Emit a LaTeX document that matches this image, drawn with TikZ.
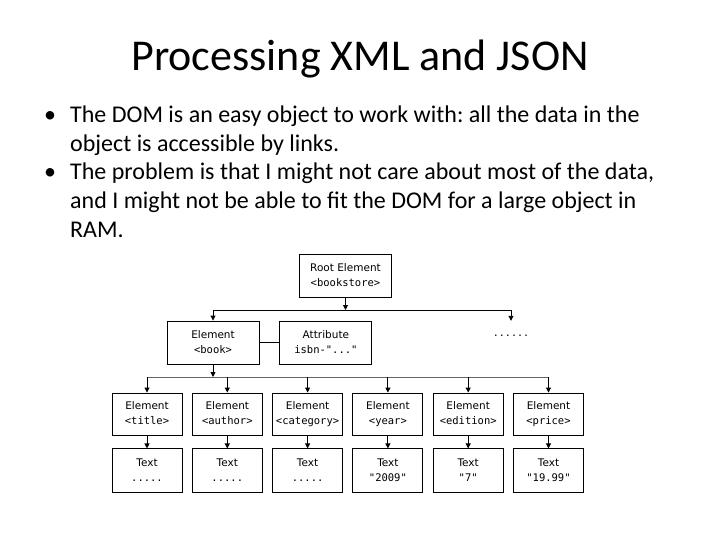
\documentclass[tikz,border=0pt]{standalone}
\usepackage{fontspec}
\setmainfont{Carlito}
\setmonofont{DejaVu Sans Mono}
\newfontfamily\dgfont{DejaVu Sans}
\usetikzlibrary{positioning, arrows.meta}
\newcommand{\twoline}[2]{#1\strut\\{\ttfamily #2}\strut}
\frenchspacing

\begin{document}
\begin{tikzpicture}[
    x=1pt, y=-1pt,
    heading/.style = {font=\fontsize{44}{48}\selectfont, inner sep=0pt, anchor=base},
    line/.style = {font=\fontsize{24}{28}\selectfont, inner sep=0pt, anchor=base west},
    box/.style = {draw, line width=0.9pt, minimum width=70pt, minimum height=42pt,
                  inner sep=0pt, align=center, font=\dgfont\fontsize{10.5}{15}\selectfont},
    txtbox/.style = {box, minimum height=44pt},
    bigbox/.style = {box, minimum width=92pt, minimum height=43pt},
    arr/.style = {-{Triangle[length=5pt, width=5pt]}, line width=0.9pt},
    bus/.style = {line width=0.9pt},
  ]
    \useasboundingbox (0,0) rectangle (720,540);
    \node[heading] (title) at (360,71) {Processing XML and JSON};
    % bullet text
    \node[line] (dot1) at (44,123) {•};
    \node[line] (l1) at (70,123) {The DOM is an easy object to work with: all the data in the};
    \node[line] (l2) at (70,151.5) {object is accessible by links.};
    \node[line] (dot2) at (44,180) {•};
    \node[line] (l3) at (70,180) {The problem is that I might not care about most of the data,};
    \node[line] (l4) at (70,208.5) {and I might not be able to fit the DOM for a large object in};
    \node[line] (l5) at (70,237) {RAM.};
    % tree
    \node[bigbox] (root) at (345.5,276) {\twoline{Root Element}{<bookstore>}};
    \node[bigbox] (book) at (213,342.5) {\twoline{Element}{<book>}};
    \node[bigbox, right=20pt of book] (attr) {\twoline{Attribute}{isbn-"..."}};
    \node[font=\ttfamily\fontsize{10}{12}\selectfont, minimum height=30pt] (more) at (511,336) {......};
    \node[box] (e1) at (147,414) {\twoline{Element}{<title>}};
    \node[box, right=9.4pt of e1] (e2) {\twoline{Element}{<author>}};
    \node[box, right=9.4pt of e2] (e3) {\twoline{Element}{<category>}};
    \node[box, right=9.4pt of e3] (e4) {\twoline{Element}{<year>}};
    \node[box, right=9.4pt of e4] (e5) {\twoline{Element}{<edition>}};
    \node[box, right=9.4pt of e5] (e6) {\twoline{Element}{<price>}};
    \node[txtbox, below=13pt of e1] (t1) {\twoline{Text}{.....}};
    \node[txtbox, below=13pt of e2] (t2) {\twoline{Text}{.....}};
    \node[txtbox, below=13pt of e3] (t3) {\twoline{Text}{.....}};
    \node[txtbox, below=13pt of e4] (t4) {\twoline{Text}{"2009"}};
    \node[txtbox, below=13pt of e5] (t5) {\twoline{Text}{"7"}};
    \node[txtbox, below=13pt of e6] (t6) {\twoline{Text}{"19.99"}};
    % connectors
    \coordinate (bus1) at (0,310);
    \coordinate (bus2) at (0,377);
    \draw[arr] (root) -- (root.south |- bus1);
    \draw[bus] (book.north |- bus1) -- (more.north |- bus1);
    \draw[arr] (book.north |- bus1) -- (book);
    \draw[arr] (more.north |- bus1) -- (more.north);
    \draw[bus] (book) -- (attr);
    \draw[arr] (book) -- (book.south |- bus2);
    \draw[bus, black!60] (e1.north |- bus2) -- (e6.north |- bus2);
    \foreach \i in {1,...,6} {
      \draw[arr] (e\i.north |- bus2) -- (e\i);
      \draw[arr] (e\i) -- (t\i);
    }
\end{tikzpicture}
\end{document}
